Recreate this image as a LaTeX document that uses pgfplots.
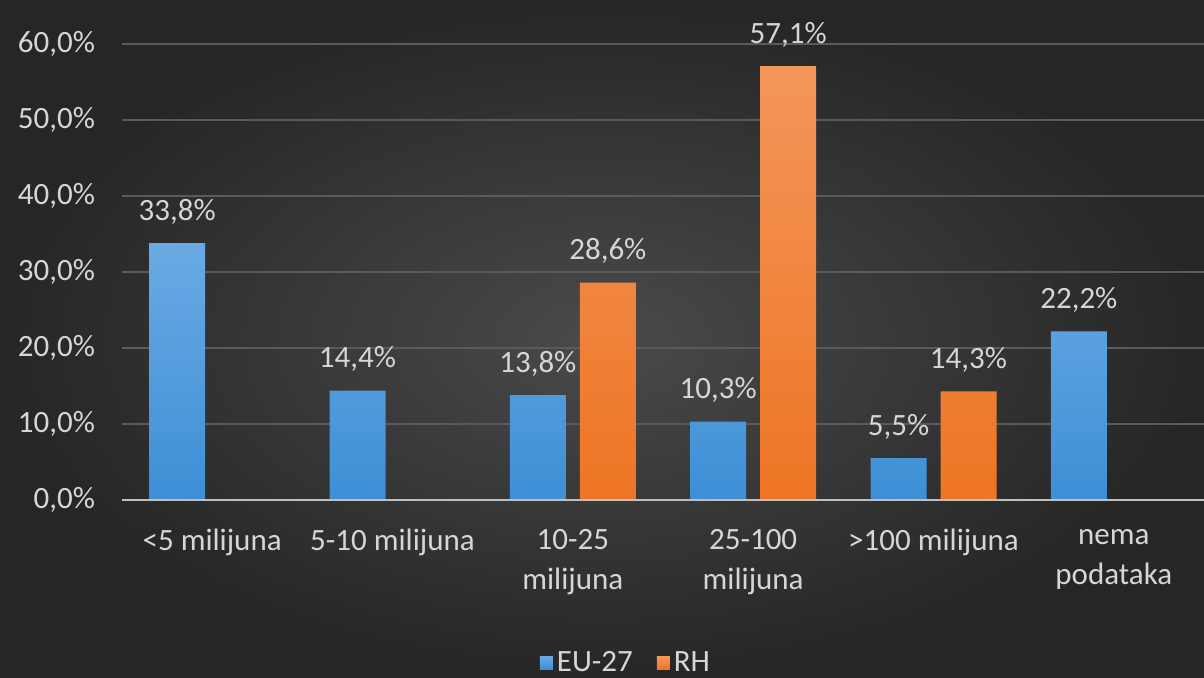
\documentclass[border=0pt]{standalone}
\usepackage{fontspec}
\setmainfont{Carlito}
\usepackage{pgfplots}
\pgfplotsset{compat=1.18}

\definecolor{bgin}{HTML}{4A4A4A}
\definecolor{bgout}{HTML}{262626}
\definecolor{gridc}{HTML}{5A5A5A}
\definecolor{basec}{HTML}{BFBFBF}
\definecolor{txt}{HTML}{D6D6D6}
\definecolor{bluetop}{HTML}{6AAAE4}
\definecolor{bluebot}{HTML}{3D8FD6}
\definecolor{orgtop}{HTML}{F4965A}
\definecolor{orgbot}{HTML}{EE7524}

\begin{document}
\begin{tikzpicture}
\shade[inner color=bgin, outer color=bgout] (0,0) rectangle (602pt,339pt);
\path[use as bounding box] (0,0) rectangle (602pt,339pt);
\begin{axis}[
    at={(61pt,89pt)}, anchor=south west,
    scale only axis,
    width=541pt, height=228pt,
    ybar,
    xmin=-0.5, xmax=5.5,
    ymin=0, ymax=60,
    xtick={0,1,2,3,4,5},
    xticklabels={{<5 milijuna},{5-10 milijuna},{10-25\\milijuna},{25-100\\milijuna},{>100 milijuna},{nema\\podataka}},
    ytick={0,10,20,30,40,50,60},
    yticklabels={{0,0\%},{10,0\%},{20,0\%},{30,0\%},{40,0\%},{50,0\%},{60,0\%}},
    major tick length=0pt,
    axis line style={draw=none},
    ymajorgrids,
    grid style={color=gridc, line width=1pt},
    tick label style={font=\fontsize{15.5}{20}\selectfont, text=txt},
    x tick label style={align=center, yshift=-11pt},
    y tick label style={xshift=-10pt},
    bar width=28pt,
    clip=false,
    nodes near coords={\pgfmathprintnumber[fixed,fixed zerofill,precision=1,use comma,assume math mode=true]{\pgfplotspointmeta}\%},
    every node near coord/.append style={font=\fontsize{15.5}{20}\selectfont, text=txt, yshift=6pt},
    legend columns=2,
    legend style={draw=none, fill=none, at={(0.4667,-0.357)}, anchor=center,
        font=\fontsize{15.5}{20}\selectfont, text=txt,
        /tikz/every even column/.append style={column sep=10pt}},
    legend image code/.code={\fill[#1] (0pt,-3.25pt) rectangle (6.5pt,3.25pt);},
]

% EU-27
\addplot[draw=none, top color=bluetop, bottom color=bluebot, bar shift=-17.5pt]
    coordinates {(0,33.8) (1,14.4) (2,13.8) (3,10.3) (4,5.5) (5,22.2)};
\addlegendentry{EU-27}

% RH
\addplot[draw=none, top color=orgtop, bottom color=orgbot, bar shift=17.5pt]
    coordinates {(2,28.6) (3,57.1) (4,14.3)};
\addlegendentry{RH}

\draw[color=basec, line width=1.2pt] (axis cs:-0.5,0) -- (axis cs:5.5,0);
\end{axis}
\end{tikzpicture}
\end{document}
